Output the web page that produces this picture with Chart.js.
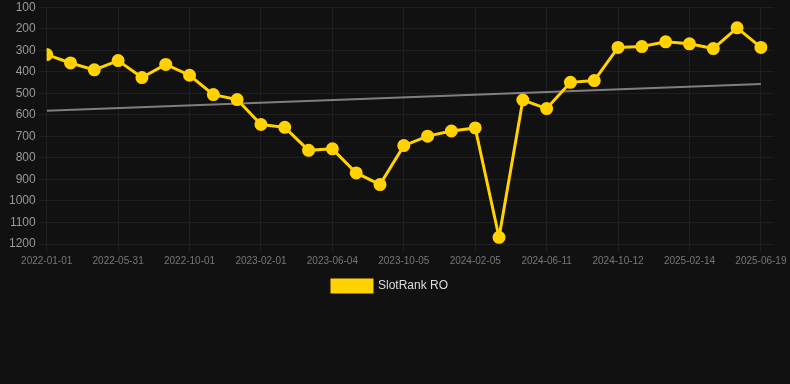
<!DOCTYPE html>
<html>
<head>
<meta charset="utf-8">
<script src="https://cdn.jsdelivr.net/npm/chart.js@4"></script>
<style>
  html, body { margin: 0; padding: 0; background: #111111; overflow: hidden; }
  #wrap { width: 790px; height: 305px; margin-top: -3px; }
</style>
</head>
<body>
<div id="wrap"><canvas id="graficoSlotRank"></canvas></div>
<script>
// datas (eixo x) e posicoes no ranking
const datas = [
    '2022-01-01', '2022-02-20', '2022-04-11', '2022-05-31', '2022-07-11', '2022-08-21',
    '2022-10-01', '2022-11-11', '2022-12-22', '2023-02-01', '2023-03-15', '2023-04-24',
    '2023-06-04', '2023-07-15', '2023-08-25', '2023-10-05', '2023-11-15', '2023-12-26',
    '2024-02-05', '2024-03-17', '2024-04-28', '2024-06-11', '2024-07-22', '2024-09-01',
    '2024-10-12', '2024-11-22', '2025-01-03', '2025-02-14', '2025-03-28', '2025-05-08',
    '2025-06-19'
]
const slotRank = [
    320, 359, 391, 348, 427, 366, 416, 506, 529, 645, 658, 765, 758, 870, 924, 743,
    699, 675, 661, 1169, 531, 571, 449, 441, 287, 283, 261, 270, 292, 196, 287
]
const ticksY = [100, 200, 300, 400, 500, 600, 700, 800, 900, 1000, 1100, 1200]

// linha de tendencia (minimos quadrados sobre os dados)
function tendencia(valores) {
    let n = valores.length
    let mx = (n - 1) / 2
    let my = valores.reduce((a, b) => a + b, 0) / n
    let num = 0, den = 0
    valores.forEach((v, i) => { num += (i - mx) * (v - my); den += (i - mx) * (i - mx) })
    let m = num / den
    return [{ x: 0, y: my - m * mx }, { x: n - 1, y: my + m * (n - 1 - mx) }]
}

let chartSlotRank = new Chart(
    document.getElementById('graficoSlotRank'), {
    type: 'line',
    data: {
        datasets: [{
            label: 'SlotRank RO',
            data: slotRank.map((v, i) => ({ x: i, y: v })),
            borderColor: 'rgb(255, 210, 0)',
            backgroundColor: 'rgb(255, 210, 0)',
            borderWidth: 3,
            pointRadius: 5,
            pointHoverRadius: 6,
            tension: 0
        }, {
            label: 'trend',
            data: tendencia(slotRank),
            borderColor: 'rgba(140, 140, 140, 0.9)',
            borderWidth: 2,
            pointRadius: 0,
            fill: false
        }]
    },
    options: {
        responsive: true,
        maintainAspectRatio: false,
        animation: false,
        layout: { padding: { left: 6, right: 16, top: 0, bottom: 0 } },
        scales: {
            x: {
                type: 'linear',
                min: 0,
                max: datas.length - 1 + 0.55,
                grid: { color: '#1f1f1f', tickLength: 8 },
                border: { display: false },
                afterBuildTicks: function (axis) {
                    axis.ticks = datas.map((d, i) => i).filter(i => i % 3 === 0).map(i => ({ value: i }))
                },
                ticks: {
                    autoSkip: false,
                    maxRotation: 0,
                    color: '#777777',
                    font: { size: 10 },
                    callback: function (value) {
                        return datas[Math.round(value)]
                    }
                }
            },
            y: {
                reverse: true,
                min: ticksY[0],
                max: ticksY[ticksY.length - 1],
                grid: { color: '#1f1f1f', tickLength: 8 },
                border: { display: false },
                afterBuildTicks: function (axis) {
                    axis.ticks = ticksY.map(v => ({ value: v }))
                },
                ticks: {
                    color: '#999999',
                    font: { size: 12 },
                    callback: value => String(value)
                }
            }
        },
        plugins: {
            legend: {
                position: 'bottom',
                labels: {
                    color: '#dddddd',
                    font: { size: 12 },
                    filter: item => item.text !== 'trend'
                }
            },
            tooltip: { enabled: false }
        }
    }
}
)
</script>
</body>
</html>
